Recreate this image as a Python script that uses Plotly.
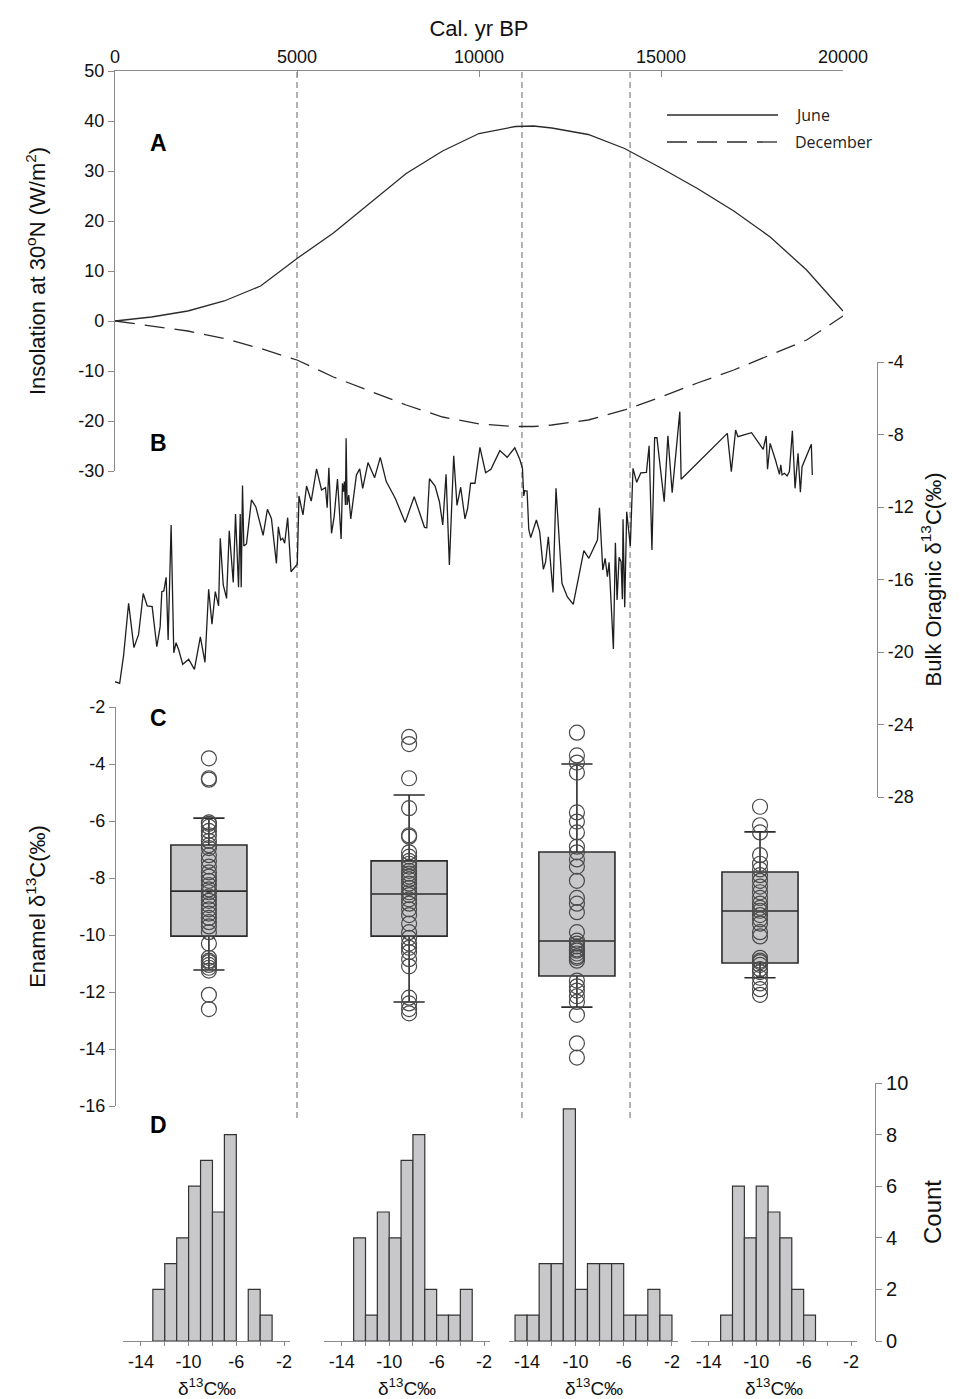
import plotly.graph_objects as go

# ---------------- data ----------------
ins_years = [0, 1000, 2000, 3000, 4000, 5000, 6000, 7000, 8000, 9000, 10000,
             11000, 11500, 12000, 13000, 14000, 15000, 16000, 17000, 18000, 19000, 20000]
june = [0, 0.8, 2.0, 4.0, 7.0, 12.5, 17.6, 23.5, 29.5, 34.0, 37.5,
        38.9, 39.0, 38.6, 37.3, 34.5, 30.6, 26.5, 22.0, 16.8, 10.2, 2.0]
december = [0, -1.0, -2.0, -3.5, -5.5, -7.8, -11.2, -14.0, -16.8, -19.2, -20.6,
            -21.1, -21.1, -20.8, -19.8, -17.8, -15.2, -12.4, -9.8, -6.8, -3.8, 1.0]
series_names = ["June", "December"]

bulk_years = [0, 128, 237, 374, 520, 648, 775, 885, 1021, 1149, 1240, 1286, 1341, 1405, 1460,
              1542, 1615, 1678, 1752, 1861, 2025, 2181, 2345, 2472, 2573, 2664, 2755, 2846, 2892,
              2974, 3065, 3139, 3248, 3311, 3394, 3440, 3467, 3503, 3539, 3612, 3749, 3867, 4069,
              4187, 4297, 4434, 4488, 4552, 4607, 4661, 4744, 4836, 5008, 5054, 5164, 5263, 5391,
              5537, 5674, 5783, 5829, 5875, 5948, 6021, 6112, 6212, 6249, 6276, 6303, 6331, 6349,
              6377, 6422, 6477, 6632, 6723, 6805, 6951, 7133, 7288, 7452, 7698, 7972, 8219, 8502,
              8566, 8639, 8793, 8913, 9004, 9095, 9186, 9305, 9396, 9497, 9615, 9688, 9770, 9889,
              10026, 10181, 10327, 10573, 10774, 10983, 11120, 11193, 11230, 11257, 11321, 11367,
              11421, 11576, 11667, 11768, 11831, 11905, 12033, 12115, 12279, 12425, 12516, 12589,
              12881, 13018, 13254, 13309, 13401, 13465, 13528, 13574, 13692, 13747, 13793, 13848,
              13903, 13939, 13957, 14003, 14058, 14157, 14231, 14331, 14445, 14600, 14673, 14751,
              14825, 14888, 15088, 15189, 15307, 15517, 15553, 16822, 16932, 17050, 17113, 17488,
              17808, 17890, 17926, 17999, 18153, 18254, 18290, 18327, 18391, 18464, 18527, 18609,
              18683, 18765, 18829, 18875, 19130, 19157]
bulk_d13c = [-21.64, -21.73, -20.17, -17.31, -19.76, -19.03, -16.77, -17.46, -17.50, -19.71, -18.60,
             -16.67, -16.63, -15.88, -19.34, -12.99, -20.04, -19.49, -19.89, -20.68, -20.40, -20.96,
             -19.16, -20.57, -16.54, -18.46, -16.67, -17.46, -13.73, -16.30, -17.04, -13.31, -16.16,
             -12.39, -16.43, -12.39, -16.43, -10.82, -14.15, -14.04, -11.61, -11.98, -13.56, -12.13,
             -12.63, -15.11, -13.09, -13.82, -13.73, -14.00, -12.59, -15.57, -15.16, -11.39, -12.44,
             -10.84, -11.67, -9.90, -11.06, -10.93, -12.04, -9.83, -13.45, -12.53, -10.46, -13.77,
             -10.69, -11.15, -10.60, -11.89, -8.21, -11.89, -11.34, -12.66, -10.23, -9.90, -10.97,
             -9.55, -10.38, -9.26, -10.60, -11.52, -12.85, -11.43, -13.12, -13.14, -10.44, -10.84,
             -11.71, -12.99, -10.20, -15.20, -9.17, -11.91, -10.91, -12.66, -12.07, -10.69, -10.69,
             -8.71, -10.11, -9.92, -8.89, -9.26, -8.73, -9.37, -9.87, -11.39, -11.10, -11.12, -13.23,
             -13.69, -12.72, -13.36, -15.44, -15.02, -13.64, -16.71, -10.97, -16.21, -16.95, -17.22,
             -17.37, -14.41, -14.83, -13.82, -12.04, -15.48, -14.83, -15.85, -15.05, -19.83, -13.97,
             -17.13, -14.78, -15.02, -17.09, -12.68, -17.53, -12.26, -14.15, -9.87, -10.64, -10.12,
             -10.09, -8.62, -14.37, -8.18, -8.18, -11.71, -8.07, -11.21, -6.74, -10.47, -7.94, -10.05,
             -7.75, -8.12, -7.90, -8.82, -8.08, -9.92, -8.49, -9.46, -10.20, -9.68, -10.23, -10.14,
             -10.29, -10.05, -7.79, -10.97, -9.04, -11.19, -9.78, -8.54, -10.23]

boundaries = [5000, 11180, 14150]

box_positions = [2580, 8080, 12690, 17720]
box_q1 = [-10.04, -10.04, -11.44, -10.98]
box_median = [-8.46, -8.56, -10.21, -9.16]
box_q3 = [-6.84, -7.40, -7.09, -7.79]
box_lower = [-11.23, -12.35, -12.53, -11.50]
box_upper = [-5.90, -5.09, -4.00, -6.38]

enamel_g1 = [-3.8, -4.5, -4.55, -6.05, -6.1, -6.2, -6.35, -6.5, -6.7, -6.85, -6.95, -7.2, -7.4,
             -7.6, -7.8, -7.95, -8.1, -8.25, -8.4, -8.5, -8.65, -8.8, -8.95, -9.1, -9.25, -9.4,
             -9.55, -9.7, -9.9, -10.3, -10.8, -10.9, -10.95, -11.05, -11.15, -11.25, -12.1, -12.6]
enamel_g2 = [-3.05, -3.3, -4.5, -5.55, -6.5, -6.55, -7.1, -7.25, -7.4, -7.5, -7.6, -7.75, -7.85,
             -7.95, -8.05, -8.2, -8.35, -8.5, -8.6, -8.75, -8.9, -9.1, -9.3, -9.6, -9.9, -10.1,
             -10.3, -10.45, -10.6, -10.85, -11.1, -12.2, -12.4, -12.6, -12.75]
enamel_g3 = [-2.9, -3.7, -3.95, -4.3, -5.7, -6.02, -6.4, -6.9, -7.1, -7.35, -7.6, -8.1, -8.7,
             -8.9, -9.2, -9.9, -10.2, -10.3, -10.4, -10.5, -10.55, -10.65, -10.75, -10.8, -10.9,
             -11.6, -11.8, -11.95, -12.15, -12.35, -12.8, -13.8, -14.3]
enamel_g4 = [-5.5, -6.15, -6.4, -7.2, -7.5, -7.7, -7.9, -8.1, -8.3, -8.5, -8.7, -8.9, -9.05,
             -9.15, -9.3, -9.45, -9.6, -9.9, -10.05, -10.8, -10.9, -10.95, -11.05, -11.2, -11.3,
             -11.5, -11.7, -11.9, -12.1]

hist_bin_left = [-15, -14, -13, -12, -11, -10, -9, -8, -7, -6, -5, -4, -3]
hist_counts_1 = [0, 0, 2, 3, 4, 6, 7, 5, 8, 0, 2, 1, 0]
hist_counts_2 = [0, 0, 4, 1, 5, 4, 7, 8, 2, 1, 1, 2, 0]
hist_counts_3 = [1, 1, 3, 3, 9, 2, 3, 3, 3, 1, 1, 2, 1]
hist_counts_4 = [0, 0, 1, 6, 4, 6, 5, 4, 2, 1, 0, 0, 0]

time_ticks = [0, 5000, 10000, 15000, 20000]
insol_ticks = [-30, -20, -10, 0, 10, 20, 30, 40, 50]
bulk_ticks = [-4, -8, -12, -16, -20, -24, -28]
enamel_ticks = [-2, -4, -6, -8, -10, -12, -14, -16]
count_ticks = [0, 2, 4, 6, 8, 10]
hist_ticks = [-14, -10, -6, -2]
hist_minor_ticks = [-12, -8, -4]


def labels(vals):
    return [str(v) for v in vals]  # plain hyphen minus, like the original


# ---------------- styling helpers ----------------
FONT = "Liberation Sans, Arial, sans-serif"
AXC = "#8a8a8a"
PAGE_OFF = 8                     # default body margin of the html page
FW, FH = 969 - PAGE_OFF, 1399 - PAGE_OFF
L, R, T, B = 115, 880, 71, 1341  # plot area in page pixels


def fx(px):
    return (px - L) / (R - L)


def fy(py):
    return (B - py) / (B - T)


fig = go.Figure()

# Panel A
line_dashes = ["solid", "20px,10px"]
for name, vals, dash in zip(series_names, [june, december], line_dashes):
    fig.add_trace(go.Scatter(x=ins_years, y=vals, mode="lines", name=name, showlegend=False,
                             line=dict(color="#2b2b2b", width=1.3, dash=dash),
                             xaxis="x", yaxis="y"))

# Panel B
fig.add_trace(go.Scatter(x=bulk_years, y=bulk_d13c, mode="lines", showlegend=False,
                         line=dict(color="#1e1e1e", width=1.3), xaxis="x", yaxis="y2"))

# Panel C
fig.add_trace(go.Box(x=box_positions, q1=box_q1, median=box_median, q3=box_q3,
                     lowerfence=box_lower, upperfence=box_upper, width=2090,
                     whiskerwidth=0.41, boxpoints=False, fillcolor="#c8c8ca",
                     line=dict(color="#2b2b2b", width=1.6), showlegend=False,
                     xaxis="x", yaxis="y3"))
for pos, grp in zip(box_positions, [enamel_g1, enamel_g2, enamel_g3, enamel_g4]):
    fig.add_trace(go.Scatter(x=[pos] * len(grp), y=grp, mode="markers", showlegend=False,
                             marker=dict(symbol="circle-open", size=15, color="#4a4a4a",
                                         line=dict(width=1.2)),
                             xaxis="x", yaxis="y3"))

# Panel D histograms
for i, counts in enumerate([hist_counts_1, hist_counts_2, hist_counts_3, hist_counts_4]):
    xs = [b + 0.5 for b, c in zip(hist_bin_left, counts) if c > 0]
    ys = [c for c in counts if c > 0]
    fig.add_trace(go.Bar(x=xs, y=ys, width=1, showlegend=False,
                         marker=dict(color="#c8c8ca", line=dict(color="#333333", width=1.2)),
                         xaxis=f"x{i + 2}", yaxis="y4"))

# vertical dashed boundaries
shapes = []
for b in boundaries:
    shapes.append(dict(type="line", xref="x", yref="paper", x0=b, x1=b,
                       y0=fy(1118), y1=1.0,
                       line=dict(color="#8a8a8a", width=1.3, dash="6px,4px"),
                       layer="below"))

annotations = []
# legend (long sample lines as in the original)
for name, dash, py in zip(series_names, line_dashes, [115, 142]):
    shapes.append(dict(type="line", xref="paper", yref="paper", x0=fx(667), x1=fx(778),
                       y0=fy(py), y1=fy(py), line=dict(color="#2b2b2b", width=1.3, dash=dash)))
    annotations.append(dict(text=name, x=fx(793), y=fy(py), xref="paper", yref="paper",
                            showarrow=False, xanchor="left", yanchor="middle",
                            font=dict(family="Open Sans, sans-serif", size=16, color="#222")))

for letter, py in [("A", 143), ("B", 443), ("C", 718), ("D", 1125)]:
    annotations.append(dict(text=f"<b>{letter}</b>", x=fx(158), y=fy(py), xref="paper",
                            yref="paper", showarrow=False, xanchor="center", yanchor="middle",
                            font=dict(family=FONT, size=23, color="#000")))

tickfont = dict(family=FONT, size=18, color="#111")
common = dict(showgrid=False, zeroline=False, showline=True, linecolor=AXC, linewidth=1.2,
              tickcolor=AXC)

layout = dict(
    width=FW, height=FH,
    margin=dict(l=L - PAGE_OFF, r=PAGE_OFF + FW - R, t=T - PAGE_OFF, b=PAGE_OFF + FH - B),
    paper_bgcolor="white", plot_bgcolor="rgba(0,0,0,0)",
    font=dict(family=FONT, color="#111"),
    shapes=shapes,
    showlegend=False,
    xaxis=dict(domain=[0, fx(843)], range=[0, 20000], anchor="y", side="top",
               tickvals=time_ticks, ticktext=labels(time_ticks), ticks="inside", ticklen=6,
               tickfont=tickfont,
               title=dict(text="Cal. yr BP", font=dict(family=FONT, size=22), standoff=4),
               **common),
    yaxis=dict(domain=[fy(471), 1.0], range=[-30, 50], anchor="x", side="left",
               tickvals=insol_ticks, ticktext=labels(insol_ticks), ticks="outside", ticklen=6,
               tickfont=tickfont,
               title=dict(text="Insolation at 30<sup>o</sup>N (W/m<sup>2</sup>)",
                          font=dict(family=FONT, size=22), standoff=26),
               **common),
    yaxis2=dict(domain=[fy(797), fy(362)], range=[-28, -4], anchor="free",
                position=fx(877), side="right",
                tickvals=bulk_ticks, ticktext=labels(bulk_ticks), ticks="outside", ticklen=6,
                tickfont=tickfont,
                title=dict(text="Bulk Oragnic δ<sup>13</sup>C(‰)",
                           font=dict(family=FONT, size=22), standoff=12),
                **common),
    yaxis3=dict(domain=[fy(1106), fy(707)], range=[-16, -2], anchor="free",
                position=0.0, side="left",
                tickvals=enamel_ticks, ticktext=labels(enamel_ticks), ticks="outside",
                ticklen=6, tickfont=tickfont,
                title=dict(text="Enamel δ<sup>13</sup>C(‰)",
                           font=dict(family=FONT, size=22), standoff=26),
                **common),
    yaxis4=dict(domain=[0.0, fy(1083)], range=[0, 10], anchor="free",
                position=fx(875), side="right",
                tickvals=count_ticks, ticktext=labels(count_ticks), ticks="outside", ticklen=6,
                tickfont=dict(family=FONT, size=20, color="#111"),
                title=dict(text="Count", font=dict(family=FONT, size=24), standoff=16),
                **common),
    annotations=annotations,
)

hist_domains = [(123, 290), (324, 490), (509, 678), (691, 857)]
for i, (a, b) in enumerate(hist_domains):
    layout[f"xaxis{i + 2}"] = dict(domain=[fx(a), fx(b)], range=[-15.5, -1.5], anchor="y4",
                                   tickvals=hist_ticks, ticktext=labels(hist_ticks),
                                   ticks="outside", ticklen=4,
                                   tickfont=dict(family=FONT, size=18, color="#111"),
                                   minor=dict(tickvals=hist_minor_ticks, ticks="outside",
                                              ticklen=4, tickcolor=AXC),
                                   **common)
    annotations.append(dict(text="δ<sup>13</sup>C‰", x=(fx(a) + fx(b)) / 2, y=fy(1387),
                            xref="paper", yref="paper", showarrow=False,
                            xanchor="center", yanchor="middle",
                            font=dict(family=FONT, size=19, color="#111")))

fig.update_layout(**layout)
fig.write_html("out.html")
